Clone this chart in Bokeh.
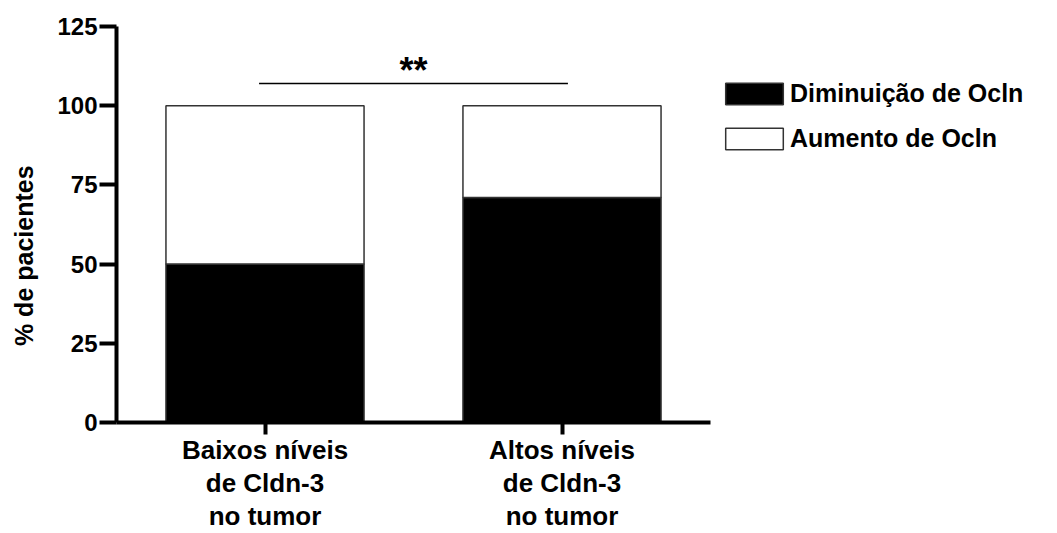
from bokeh.plotting import figure
from bokeh.models import (Range1d, FixedTicker, ColumnDataSource,
                          Legend, LegendItem)
from bokeh.core.properties import value
from bokeh.embed import file_html
from bokeh.resources import INLINE

# ---- data ----
categories = ["Baixos níveis\nde Cldn-3\nno tumor",
              "Altos níveis\nde Cldn-3\nno tumor"]
x_pos = [1, 2]
diminuicao = [50, 71]
aumento = [50, 29]
series_names = ["Diminuição de Ocln", "Aumento de Ocln"]
y_ticks = [0, 25, 50, 75, 100, 125]
sig_x = [0.98, 2.02]
sig_y = [107, 107]
sig_text = "**"
y_title = "% de pacientes"

FONT = "Liberation Sans"

# layout: plot frame spans to the right edge so the legend can sit inside it;
# the x axis line is bounded to the category span.
W, H = 1057, 533
LEFT, TOP = 116, 26
PX_PER_CAT = 297
x_end = 0.5 + (W - LEFT) / PX_PER_CAT

p = figure(width=W, height=H, output_backend="svg", toolbar_location=None,
           x_range=Range1d(0.5, x_end), y_range=Range1d(0, 125),
           min_border_left=LEFT, min_border_right=0,
           min_border_top=TOP, min_border_bottom=107)
p.outline_line_color = None
p.xgrid.visible = False
p.ygrid.visible = False
p.background_fill_color = "white"
p.border_fill_color = "white"

src = ColumnDataSource(dict(x=x_pos, dim=diminuicao, aum=aumento))
rs = p.vbar_stack(["dim", "aum"], x="x", width=0.667, source=src,
                  fill_color=["black", "white"], line_color="#333333",
                  line_width=1.5)

legend = Legend(items=[LegendItem(label=series_names[0], renderers=[rs[0]]),
                       LegendItem(label=series_names[1], renderers=[rs[1]])],
                location=(602, 269), glyph_width=72, glyph_height=27,
                label_height=18, label_standoff=0, spacing=16, padding=0,
                margin=0, border_line_color=None, background_fill_alpha=0,
                label_text_font=FONT, label_text_font_style="bold",
                label_text_font_size="25px", label_text_color="black")
p.add_layout(legend)

# significance bracket
p.line(sig_x, sig_y, line_color="black", line_width=1.5)
p.text(x=[sum(sig_x) / 2], y=[sig_y[0] + 4.2], text=[sig_text],
       text_align="center", text_baseline="middle",
       text_font=value(FONT), text_font_style="bold", text_font_size="36px",
       text_color="black")

# axes
for ax in (p.xaxis[0], p.yaxis[0]):
    ax.axis_line_width = 4
    ax.axis_line_color = "black"
    ax.major_tick_line_width = 4
    ax.major_tick_line_color = "black"
    ax.major_tick_in = 0
    ax.minor_tick_line_color = None
    ax.major_label_text_font = FONT
    ax.major_label_text_font_style = "bold"
    ax.major_label_text_color = "black"

p.yaxis.ticker = FixedTicker(ticks=y_ticks)
p.yaxis.major_tick_out = 17
p.yaxis.major_label_standoff = 2
p.yaxis.major_label_text_font_size = "24px"
p.yaxis.axis_label = y_title + "\u00a0" * 9
p.yaxis.axis_label_text_font = FONT
p.yaxis.axis_label_text_font_style = "bold"
p.yaxis.axis_label_text_font_size = "25px"
p.yaxis.axis_label_text_color = "black"
p.yaxis.axis_label_standoff = 16

p.xaxis.bounds = (0.5, 2.5)
p.xaxis.ticker = FixedTicker(ticks=x_pos)
p.xaxis.major_tick_out = 12
p.xaxis.major_label_standoff = 0
p.xaxis.major_label_overrides = {x: c for x, c in zip(x_pos, categories)}
p.xaxis.major_label_text_font_size = "26px"
p.xaxis.major_label_text_line_height = 1.1

open("out.html", "w").write(file_html(p, INLINE))
